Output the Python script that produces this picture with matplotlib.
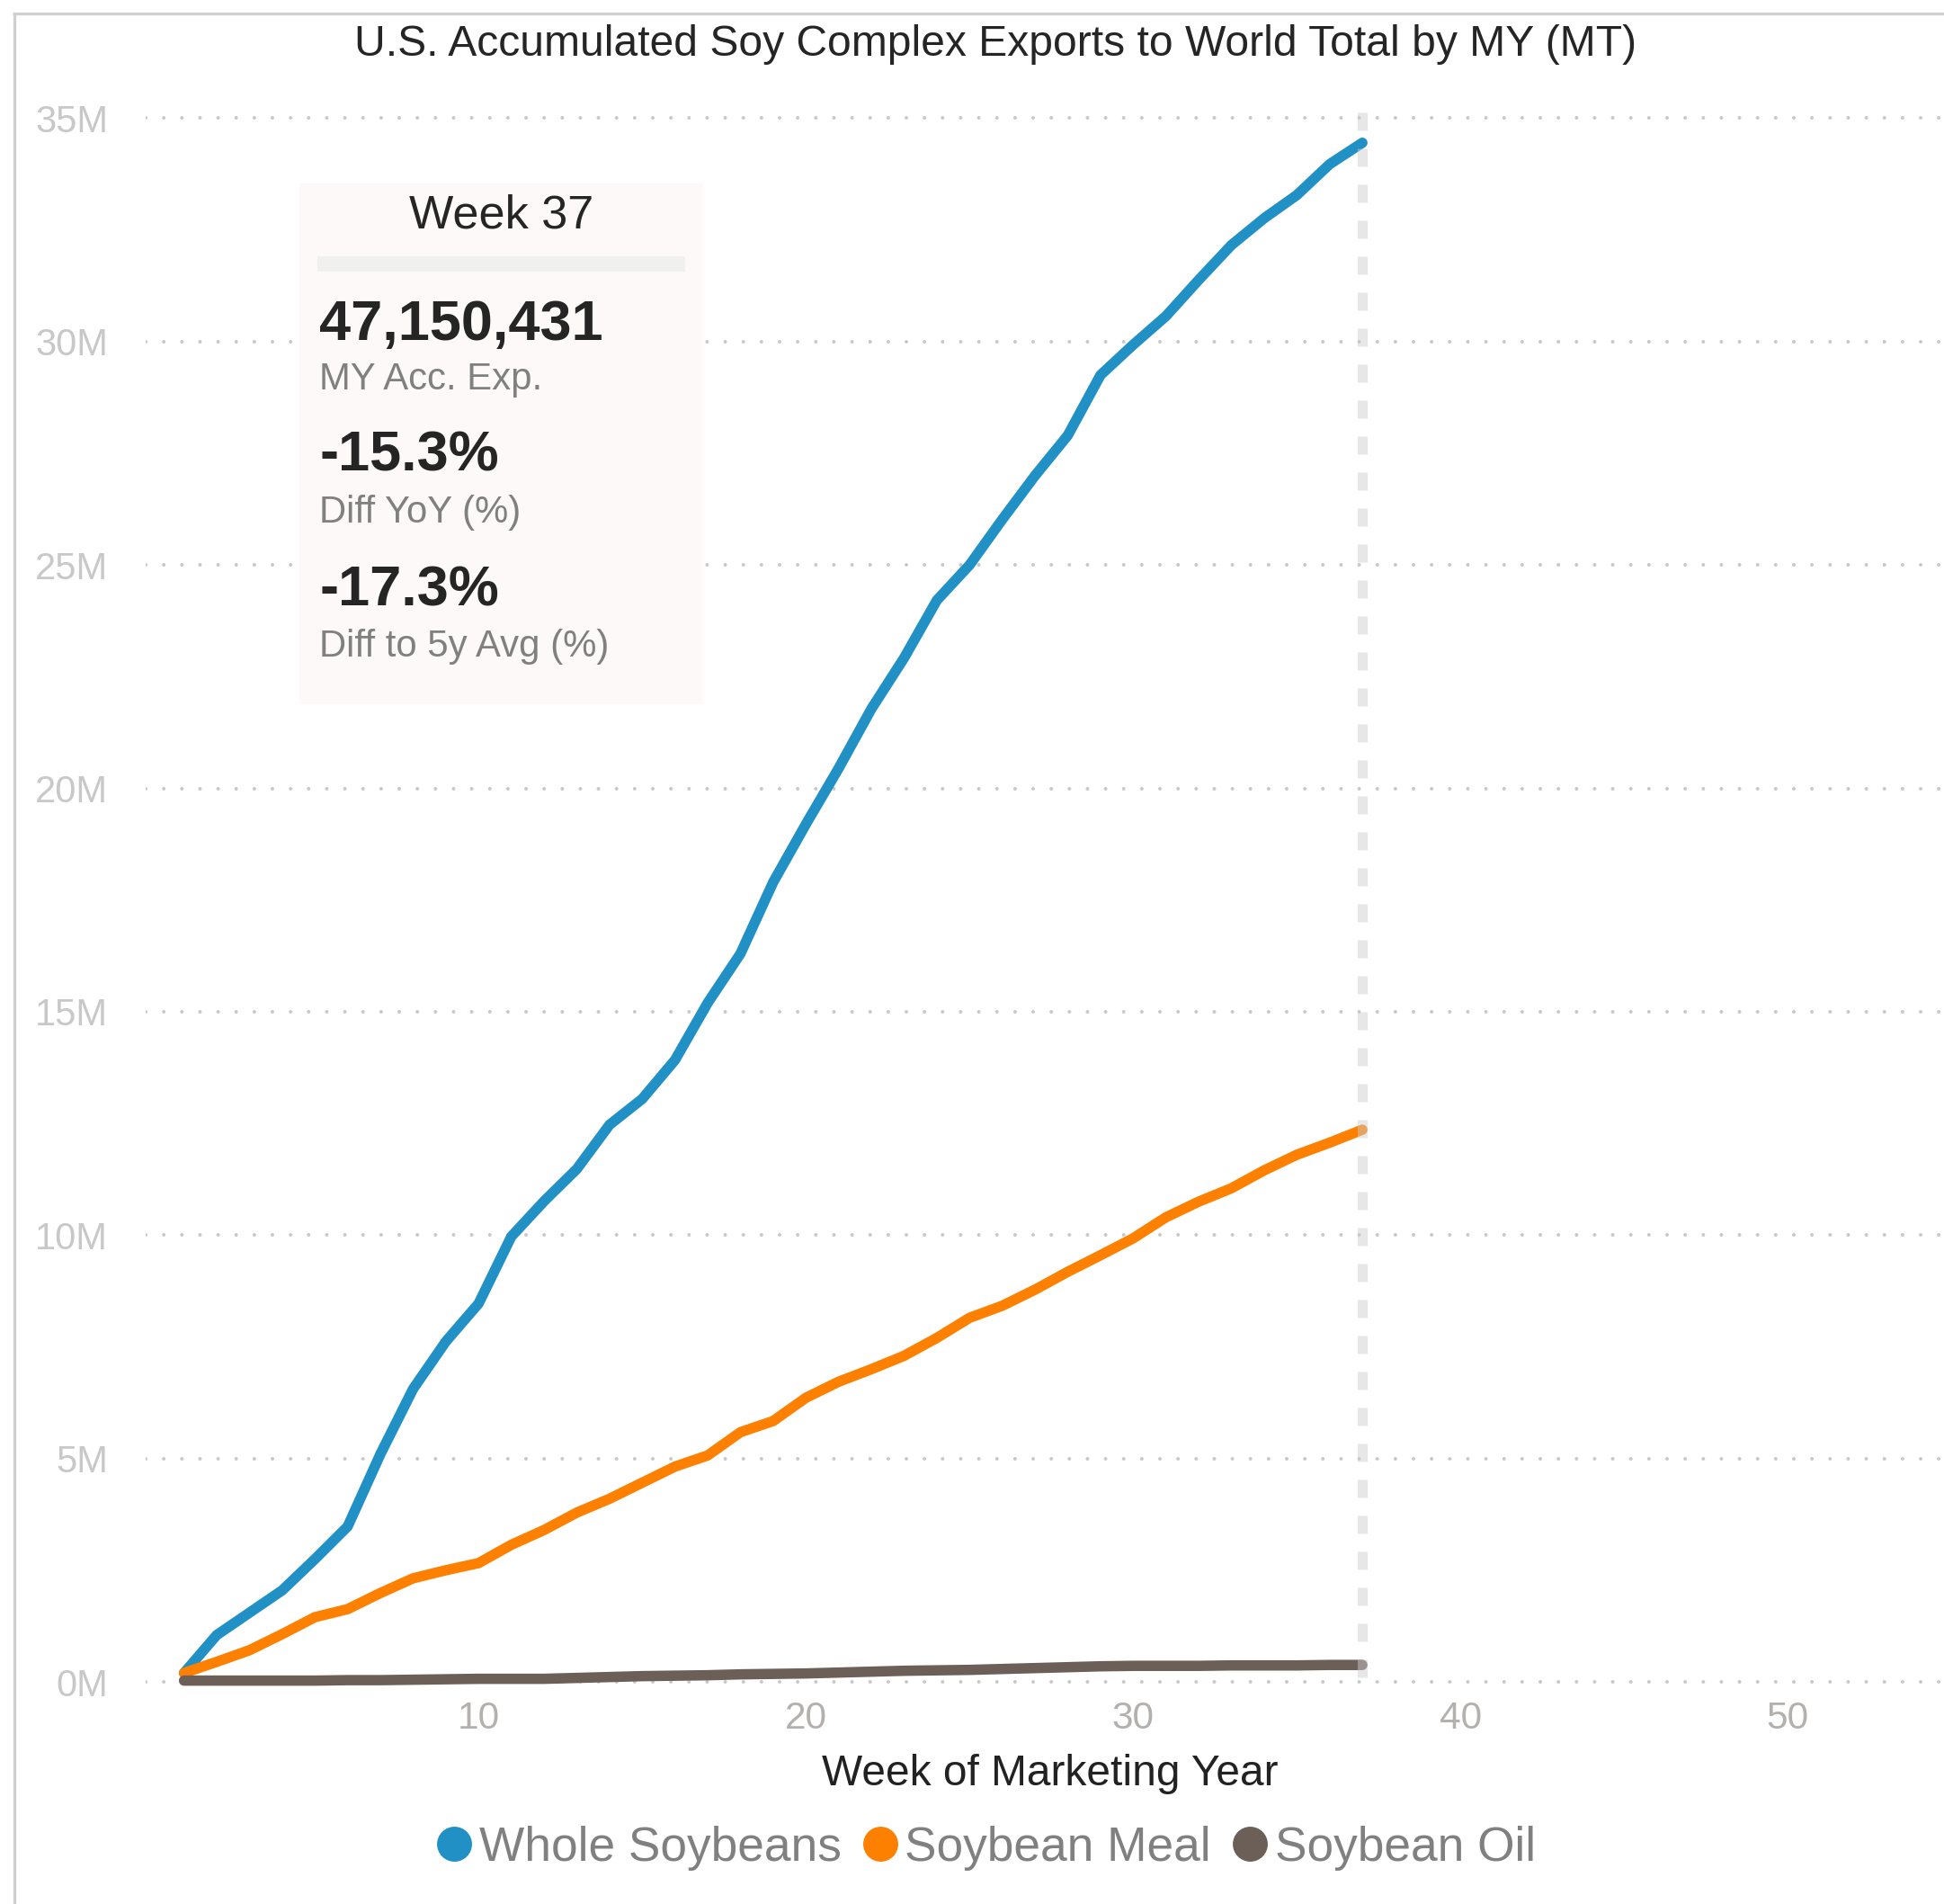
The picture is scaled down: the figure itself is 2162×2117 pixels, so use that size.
import matplotlib
matplotlib.use("Agg")
import matplotlib.pyplot as plt
from matplotlib.lines import Line2D
from matplotlib.patches import Rectangle

# ---------------- data ----------------
weeks = list(range(1, 38))
whole_soybeans = [0.20, 1.05, 1.55, 2.05, 2.75, 3.48, 5.10, 6.56, 7.62, 8.47,
                  9.97, 10.76, 11.48, 12.47, 13.05, 13.92, 15.20, 16.30, 17.90, 19.20,
                  20.45, 21.78, 22.92, 24.21, 25.00, 26.02, 27.00, 27.90, 29.25, 29.93,
                  30.57, 31.38, 32.16, 32.76, 33.28, 33.97, 34.45]
soybean_meal = [0.20, 0.45, 0.71, 1.07, 1.45, 1.63, 1.99, 2.32, 2.50, 2.66,
                3.07, 3.40, 3.79, 4.10, 4.46, 4.82, 5.07, 5.59, 5.84, 6.36,
                6.72, 7.00, 7.30, 7.70, 8.15, 8.42, 8.78, 9.18, 9.55, 9.93,
                10.40, 10.75, 11.05, 11.45, 11.80, 12.07, 12.36]
soybean_oil = [0.03, 0.03, 0.03, 0.03, 0.03, 0.04, 0.04, 0.05, 0.06, 0.07,
               0.07, 0.07, 0.09, 0.11, 0.13, 0.14, 0.15, 0.17, 0.18, 0.19,
               0.21, 0.23, 0.25, 0.26, 0.27, 0.29, 0.31, 0.33, 0.35, 0.36,
               0.36, 0.36, 0.37, 0.37, 0.37, 0.38, 0.38]
series_names = ["Whole Soybeans", "Soybean Meal", "Soybean Oil"]
series_colors = ["#2190c4", "#fe8000", "#6b5f58"]
current_week = 37
x_ticks = [10, 20, 30, 40, 50]
y_ticks = [0, 5, 10, 15, 20, 25, 30, 35]
y_tick_labels = [f"{v}M" for v in y_ticks]
title = "U.S. Accumulated Soy Complex Exports to World Total by MY (MT)"
x_label = "Week of Marketing Year"
card_title = "Week 37"
card_values = ["47,150,431", "-15.3%", "-17.3%"]
card_labels = ["MY Acc. Exp.", "Diff YoY (%)", "Diff to 5y Avg (%)"]

# ---------------- figure ----------------
W, H = 2162, 2117
FONT = "Liberation Sans"
plt.rcParams["font.family"] = [FONT, "DejaVu Sans"]

fig = plt.figure(figsize=(W / 100, H / 100), dpi=100)
fig.patch.set_facecolor("white")

def fx(px):
    return px / W

def fy(py):
    return 1 - py / H

# axes placement (pixel geometry)
ax_left, ax_right = 161.7, 2162
ax_top, ax_bottom = 116, 1885
ax = fig.add_axes([fx(ax_left), fy(ax_bottom), (ax_right - ax_left) / W, (ax_bottom - ax_top) / H])
ax.set_facecolor("none")

for spine in ax.spines.values():
    spine.set_visible(False)

ax.set_xlim(-0.18, 54.77)
ax.set_ylim(-0.30, 35.31)

ax.set_xticks(x_ticks)
ax.set_xticklabels([str(t) for t in x_ticks])
ax.set_yticks(y_ticks)
ax.set_yticklabels(y_tick_labels)
ax.tick_params(axis="both", length=0)
ax.tick_params(axis="y", pad=30, labelsize=30, labelcolor="#c8c8c8")
ax.tick_params(axis="x", pad=4, labelsize=30.5, labelcolor="#b3b0ae")

# dotted horizontal grid
ax.yaxis.grid(True, color="#c8c8c8", linewidth=2.9, linestyle=(0, (0.001, 5.0)))
for gl in ax.get_ygridlines():
    gl.set_dash_capstyle("round")
ax.xaxis.grid(False)
ax.set_axisbelow(True)

# series lines
data = [whole_soybeans, soybean_meal, soybean_oil]
for i, (vals, name, col) in enumerate(zip(data, series_names, series_colors)):
    ax.plot(weeks, vals, color=col, linewidth=8.3, solid_capstyle="round",
            solid_joinstyle="round", label=name, zorder=3 + i)

# current-week dashed marker line (drawn on top, semi-transparent)
ax.plot([current_week, current_week], [0.1, 35.15], color="#cdcdcd", alpha=0.47,
        linewidth=8, linestyle=(0, (1.8, 1.8)), zorder=10)

# x label
ax.set_xlabel(x_label, fontsize=34.5, color="#222222")
ax.xaxis.set_label_coords((1168 - ax_left) / (ax_right - ax_left), (ax_bottom - 1985) / (ax_bottom - ax_top))
ax.xaxis.label.set_va("baseline")

# title
fig.text(fx(1107), fy(62), title, ha="center", va="baseline", fontsize=34.6, color="#252525")

# legend
handles = [Line2D([], [], marker="o", linestyle="", markersize=28, markerfacecolor=c,
                  markeredgecolor=c, markeredgewidth=0) for c in series_colors]
leg = ax.legend(handles, series_names, ncol=3, loc="center",
                bbox_to_anchor=(fx(1097), fy(2055)), bbox_transform=fig.transFigure,
                frameon=False, fontsize=38.3, labelcolor="#808080",
                handlelength=0.73, handletextpad=0.15, columnspacing=0.45,
                borderpad=0, borderaxespad=0)

# info card
fig.patches.append(Rectangle((fx(333), fy(783)), (782 - 333) / W, (783 - 204.5) / H,
                             transform=fig.transFigure, facecolor="#fcf9f8",
                             edgecolor="none", zorder=20))
fig.patches.append(Rectangle((fx(353), fy(302)), (762 - 353) / W, (302 - 285) / H,
                             transform=fig.transFigure, facecolor="#f0f0ef",
                             edgecolor="none", zorder=21))
fig.text(fx(557.5), fy(253), card_title, ha="center", va="baseline", fontsize=37.6,
         color="#252525", zorder=22)
value_baselines = [377.7, 524, 674]
label_baselines = [433, 581, 729.6]
for v, l, vb, lb in zip(card_values, card_labels, value_baselines, label_baselines):
    fig.text(fx(355), fy(vb), v, ha="left", va="baseline", fontsize=45.4,
             fontweight="bold", color="#252525", zorder=22)
    fig.text(fx(355), fy(lb), l, ha="left", va="baseline", fontsize=30.2,
             color="#808080", zorder=22)

# outer frame (top and left border)
fig.lines.append(Line2D([fx(15.5), fx(15.5)], [fy(15), 0], transform=fig.transFigure,
                        color="#d0d0d0", linewidth=2.4, solid_capstyle="butt"))
fig.lines.append(Line2D([fx(14.3), 1], [fy(15), fy(15)], transform=fig.transFigure,
                        color="#d0d0d0", linewidth=2.4, solid_capstyle="butt"))

fig.savefig("out.png", dpi=100, facecolor="white")
